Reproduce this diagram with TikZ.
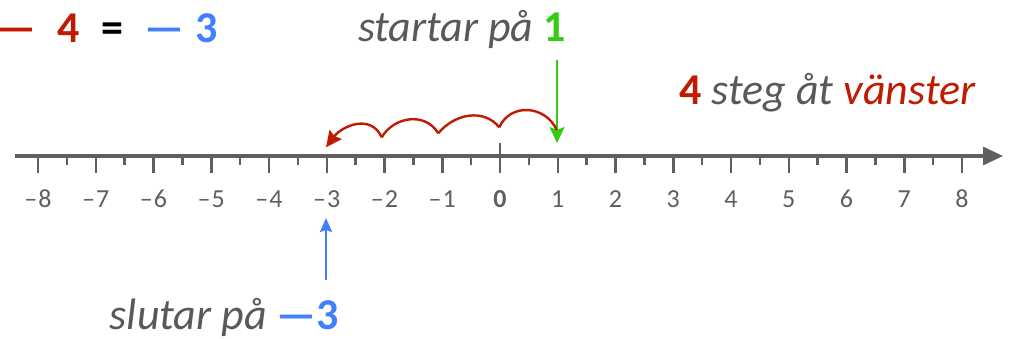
\documentclass[tikz,border=0pt]{standalone}
\usepackage{fontspec}
\setmainfont{Carlito}
\usetikzlibrary{arrows.meta}
\definecolor{myred}{RGB}{192,26,0}
\definecolor{mygreen}{RGB}{51,204,17}
\definecolor{myblue}{RGB}{64,128,255}
\definecolor{axgray}{RGB}{95,95,95}
\definecolor{txtgray}{RGB}{89,89,89}
\tikzset{
  axisline/.style={draw=axgray,line width=3.3pt},
  tickline/.style={draw=axgray,line width=2.5pt},
  ticklabel/.style={text=axgray,font=\fontsize{26}{30}\selectfont,inner sep=0pt},
  bigtext/.style={font=\fontsize{44}{50}\selectfont,inner sep=0pt},
  hop/.style={draw=myred,line width=2.4pt},
}
\begin{document}
\begin{tikzpicture}[x=1pt,y=-1pt]
\useasboundingbox (0,0) rectangle (1014,339);
% axis
\coordinate (axL) at (15,156);
\coordinate (axR) at (1003,156);
\draw[axisline,-{Triangle[length=20pt,width=18pt]}] (axL) -- (axR);
\foreach \i in {-8,...,8}{
  \pgfmathsetmacro{\xx}{500+57.75*\i}
  \ifnum\i=0
    \draw[tickline] (\xx,143) -- (\xx,173);
    \node[ticklabel] (lab\i) at (\xx,199) {\textbf{0}};
  \else
    \draw[tickline] (\xx,156) -- (\xx,173);
    \pgfmathtruncatemacro{\aa}{abs(\i)}
    \ifnum\i<0
      \node[ticklabel] (lab\i) at (\xx,199) {–\kern1pt\aa};
    \else
      \node[ticklabel] (lab\i) at (\xx,199) {\aa};
    \fi
  \fi
}
\foreach \i in {-8,...,7}{
  \pgfmathsetmacro{\xx}{500+57.75*\i+28.875}
  \draw[tickline] (\xx,156) -- (\xx,165);
}
% top-left equation
\node[bigtext,text=myred,anchor=base] (d1) at (16,43) {\textbf{—}};
\node[bigtext,text=myred,anchor=base] (n4) at (69,43) {\textbf{4}};
\node[bigtext,text=black,anchor=base] (eq) at (112,43) {\textbf{=}};
\node[bigtext,text=myblue,anchor=base] (d2) at (164,43) {\textbf{—}};
\node[bigtext,text=myblue,anchor=base] (n3) at (207,43) {\textbf{3}};
% texts
\node[bigtext,anchor=base east] (start) at (566,42) {\textcolor{txtgray}{\textit{startar på}} \textcolor{mygreen}{\textbf{1}}};
\node[bigtext,anchor=base east] (steps) at (976,105) {\textcolor{myred}{\textbf{4}} \textcolor{txtgray}{\textit{steg åt}} \textcolor{myred}{\textit{vänster}}};
\node[bigtext,anchor=base east] (end) at (339,329) {\textcolor{txtgray}{\textit{slutar på}} \textcolor{myblue}{\textbf{—3}}};
% green arrow
\coordinate (gs) at (557,60);
\coordinate (ge) at (557,143);
\draw[draw=mygreen,line width=2.4pt,-{Stealth[length=16pt,width=15pt,inset=3pt]}] (gs) -- (ge);
% blue arrow
\coordinate (bs) at (326,280);
\coordinate (be) at (326,218);
\draw[draw=myblue,line width=2.2pt,-{Stealth[length=14pt,width=12pt,inset=2pt]}] (bs) -- (be);
% hops
\coordinate (a0) at (556.7,130);
\coordinate (a1) at (499.3,127.3);
\coordinate (a2) at (438.3,133.3);
\coordinate (a3) at (381.7,137.3);
\coordinate (a4) at (326,147.3);
\draw[hop] (a0) .. controls (545.6,105.2) and (510.4,102.5) .. (a1);
\draw[hop] (a1) .. controls (483.5,107.9) and (454.1,113.9) .. (a2);
\draw[hop] (a2) .. controls (425.5,112) and (394.5,116) .. (a3);
\draw[hop,-{Stealth[length=16pt,width=15pt,inset=2pt]}] (a3) .. controls (370.9,113.3) and (342,126) .. (a4);
\end{tikzpicture}
\end{document}
